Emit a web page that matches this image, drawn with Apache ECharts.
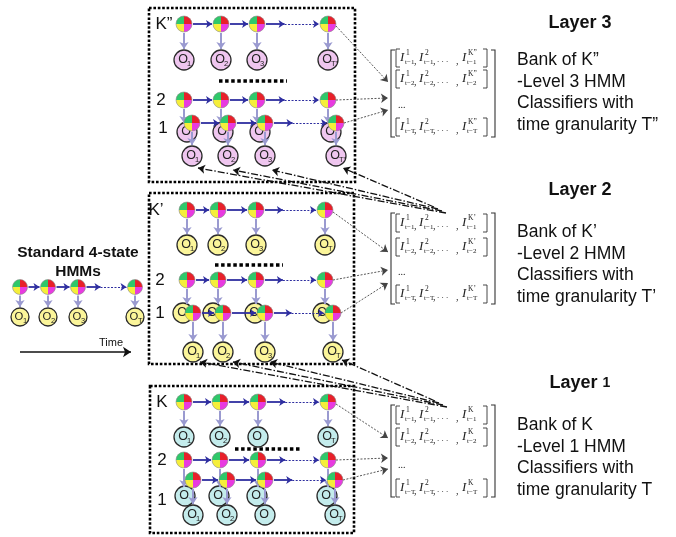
<!DOCTYPE html>
<html><head><meta charset="utf-8">
<script src="https://cdn.jsdelivr.net/npm/echarts@6/dist/echarts.min.js"></script>
<style>html,body{margin:0;padding:0;background:#fff}#c{width:676px;height:537px}</style>
</head><body><div id="c"></div>
<script>
// ---------------- content (texts / labels) ----------------
const layerNames = ['Layer 3', 'Layer 2', 'Layer {s|1}'];
const bankLines = [
  ['Bank of K\u201d', '-Level 3 HMM', 'Classifiers with', 'time granularity T\u201d'],
  ['Bank of K\u2019', '-Level 2 HMM', 'Classifiers with', 'time granularity T\u2019'],
  ['Bank of K', '-Level 1 HMM', 'Classifiers with', 'time granularity T']
];
const rowLabels = [['K\u201d', '2', '1'], ['K\u2019', '2', '1'], ['K', '2', '1']];
const obsTopSubs = [['1', '2', '3', 'T\u201d'], ['1', '2', '3', 'T'], ['1', '2', '', 'T']];
const obsBottomSubs = [['1', '2', '3', 'T\u201d'], ['1', '2', '3', 'T'], ['1', '2', '', 'T']];
const bankSizes = ['K\u201d', 'K\u2019', 'K'];
const termSups = ['1', '2'];
const lagSubs = ['t\u22121', 't\u22122', 't\u2212T'];
const stdTitle = ['Standard 4-state', 'HMMs'];
const stdObsSubs = ['1', '2', '3', 'T'];
const timeLabel = 'Time';

// ---------------- layout (pixel space of the 676x537 canvas) ----------------
const W = 676, H = 537;
const L = [
  { box: [149, 8, 355, 182], colsTop: [184, 221, 257, 328], cols1: [192, 228, 265, 336],
    yTop: 24, yTopO: 60, dotsY: 81, dotsX: [219, 287], y2: 100, y1: 123, hid: [-5, 9], y1O: 156,
    lab: [[164, 24], [161, 100], [163, 128]], conn: [82, 98, 110],
    mRows: [58, 79, 105, 127], mBr: [50, 137], text: [60, 82, 103, 125], head: [580, 23],
    dashTargets: [[198, 168], [233, 170], [272, 170], [343, 168]], dashStart: [[446, 213], [442, 211], [438, 209], [434, 207]],
    fill: '#efc6ef' },
  { box: [149, 193, 354, 364], colsTop: [187, 218, 256, 325], cols1: [193, 223, 265, 333],
    yTop: 210, yTopO: 245, dotsY: 265, dotsX: [215, 283], y2: 280, y1: 313, hid: [-10, 0], y1O: 352,
    lab: [[156, 210], [160, 280], [160, 313]], conn: [252, 270, 283],
    mRows: [223, 247, 272, 294], mBr: [213, 304], text: [232, 254, 275, 297], head: [580, 190],
    dashTargets: [[200, 362], [233, 362], [270, 362], [342, 360]], dashStart: [[447, 407], [443, 405], [439, 403], [435, 401]],
    fill: '#fbf59a' },
  { box: [150, 386, 354, 533], colsTop: [184, 220, 258, 328], cols1: [193, 227, 265, 335],
    yTop: 402, yTopO: 437, dotsY: 449, dotsX: [235, 302], y2: 460, y1: 480, hid: [-8, 16], y1O: 515,
    lab: [[162, 402], [162, 460], [162, 500]], conn: [438, 458, 469],
    mRows: [415, 437, 465, 488], mBr: [405, 497], text: [425, 447, 468, 490], head: [580, 383],
    dashTargets: null, dashStart: null,
    fill: '#c4ecec' }
];
const STD = { cols: [20, 48, 78, 135], y: 287, yO: 317, title: [[78, 253], [78, 272]], time: [111, 343], timeArrow: [[20, 352], [131, 352]], fill: '#fbf59a' };

const stateR = 8, obsR = 10;
const C = { green: '#2fc86a', red: '#e8202a', yellow: '#f5ee3a', magenta: '#e83ae0',
  blue: '#2e2ea0', lav: '#9a9ad0' };

// ---------------- build mark lists ----------------
const boxes = [], states = [], obs = [], hidden = [], hArrows = [], hDotted = [], vArrows = [],
  conns = [], dashes = [], ellipses = [], labels = [];

function rowArrows(cols, y, r) {
  for (let i = 0; i < cols.length - 1; i++) {
    const a = cols[i] + r + 1, b = cols[i + 1] - r - 1;
    if (i < cols.length - 2) hArrows.push({ coords: [[a, y], [b, y]] });
    else {
      const m = a + (b - a) * 0.35;
      hArrows.push({ coords: [[a, y], [m, y]] });
      hDotted.push({ coords: [[m, y], [b, y]] });
    }
  }
}

L.forEach((ly, li) => {
  boxes.push(ly.box);
  // top row (K)
  ly.colsTop.forEach((x, i) => {
    states.push({ x, y: ly.yTop, r: stateR });
    obs.push({ x, y: ly.yTopO, r: obsR, sub: obsTopSubs[li][i], fill: ly.fill });
    vArrows.push({ coords: [[x, ly.yTop + stateR + 1], [x, ly.yTopO - obsR - 1]] });
  });
  rowArrows(ly.colsTop, ly.yTop, stateR);
  // row 2
  ly.colsTop.forEach((x, i) => {
    states.push({ x, y: ly.y2, r: stateR });
    const hx = ly.cols1[i] + ly.hid[0], hy = ly.y1 + ly.hid[1];
    hidden.push({ x: hx, y: hy, r: obsR, sub: '', fill: ly.fill });
    vArrows.push({ coords: [[x, ly.y2 + stateR + 1], [x, hy - obsR + 1]] });
  });
  rowArrows(ly.colsTop, ly.y2, stateR);
  // row 1
  ly.cols1.forEach((x, i) => {
    states.push({ x, y: ly.y1, r: stateR });
    obs.push({ x, y: ly.y1O, r: obsR, sub: obsBottomSubs[li][i], fill: ly.fill });
    vArrows.push({ coords: [[x, ly.y1 + stateR + 1], [x, ly.y1O - obsR - 1]] });
  });
  rowArrows(ly.cols1, ly.y1, stateR);
  // ellipsis dots
  ellipses.push({ coords: [[ly.dotsX[0], ly.dotsY], [ly.dotsX[1], ly.dotsY]] });
  // connectors to matrix
  const last = ly.colsTop.length - 1;
  conns.push({ coords: [[ly.colsTop[last] + stateR, ly.yTop + 2], [388, ly.conn[0]]] });
  conns.push({ coords: [[ly.colsTop[last] + stateR, ly.y2], [388, ly.conn[1]]] });
  conns.push({ coords: [[ly.cols1[last] + stateR, ly.y1], [388, ly.conn[2]]] });
  // dash-dot feedback lines
  if (ly.dashTargets) ly.dashTargets.forEach((t, i) => dashes.push({ coords: [ly.dashStart[i], t] }));
  // texts
  labels.push({ x: ly.head[0], y: ly.head[1], text: layerNames[li], size: 18, weight: 'bold', align: 'center', rich: { s: { fontSize: 14, fontWeight: 'bold', fontFamily: 'Liberation Sans', fill: '#111' } } });
  bankLines[li].forEach((t, k) => labels.push({ x: 517, y: ly.text[k], text: t, size: 17.5, align: 'left' }));
  rowLabels[li].forEach((t, k) => labels.push({ x: ly.lab[k][0], y: ly.lab[k][1], text: t, size: 17, align: 'center' }));
});

// standard HMM on the left
STD.cols.forEach((x, i) => {
  states.push({ x, y: STD.y, r: 7.5 });
  obs.push({ x, y: STD.yO, r: 9, sub: stdObsSubs[i], fill: STD.fill });
  vArrows.push({ coords: [[x, STD.y + 8.5], [x, STD.yO - 10]] });
});
rowArrows(STD.cols, STD.y, 7.5);
stdTitle.forEach((t, k) => labels.push({ x: STD.title[k][0], y: STD.title[k][1], text: t, size: 15.5, weight: 'bold', align: 'center' }));
labels.push({ x: STD.time[0], y: STD.time[1], text: timeLabel, size: 11, align: 'center' });
const timeArrow = [{ coords: STD.timeArrow }];

// ---------------- render helpers ----------------
function stateItem(list) {
  return function (params, api) {
    const s = list[params.dataIndex];
    const c = api.coord([s.x, s.y]);
    const sec = (a0, a1, fill) => ({ type: 'sector', shape: { cx: c[0], cy: c[1], r0: 0, r: s.r, startAngle: a0, endAngle: a1, clockwise: true }, style: { fill } });
    const P = Math.PI;
    return { type: 'group', children: [
      sec(-P / 2, 0, C.red), sec(0, P / 2, C.magenta), sec(P / 2, P, C.yellow), sec(P, 1.5 * P, C.green),
      { type: 'circle', shape: { cx: c[0], cy: c[1], r: s.r }, style: { fill: 'transparent', stroke: '#8a8a8a', lineWidth: 0.6 } }
    ] };
  };
}
function obsItem(list) {
  return function (params, api) {
    const o = list[params.dataIndex];
    const c = api.coord([o.x, o.y]);
    const ch = [
      { type: 'circle', shape: { cx: c[0], cy: c[1], r: o.r }, style: { fill: o.fill, stroke: '#2a2a2a', lineWidth: 1.3 } },
      { type: 'text', x: c[0] - 1, y: c[1], style: { text: 'O', fontSize: o.r * 1.25, fontFamily: 'Liberation Sans', fill: '#222', align: 'center', verticalAlign: 'middle' } }
    ];
    if (o.sub) ch.push({ type: 'text', x: c[0] + 3, y: c[1] + 3.5, style: { text: o.sub, fontSize: 7.5, fontFamily: 'Liberation Sans', fill: '#222', align: 'left', verticalAlign: 'middle' } });
    return { type: 'group', children: ch };
  };
}
function matrixItem(params, api) {
  const li = params.dataIndex, ly = L[li];
  const p = (x, y) => api.coord([x, y]);
  const ch = [];
  const poly = (pts, w) => ({ type: 'polyline', shape: { points: pts.map(q => p(q[0], q[1])) }, style: { stroke: '#333', lineWidth: w || 1, fill: 'transparent' } });
  const txt = (t, x, y, size, fam, style, align) => {
    const q = p(x, y);
    return { type: 'text', x: q[0], y: q[1], style: { text: t, fontSize: size, fontFamily: fam || 'Liberation Serif', fontStyle: style || 'normal', fill: '#222', align: align || 'left', verticalAlign: 'middle' } };
  };
  const bt = ly.mBr[0], bb = ly.mBr[1], lx = 391, rx = 495;
  ch.push(poly([[lx + 4, bt], [lx, bt], [lx, bb], [lx + 4, bb]], 1.1));
  ch.push(poly([[rx - 4, bt], [rx, bt], [rx, bb], [rx - 4, bb]], 1.1));
  const supAll = termSups.concat([bankSizes[li]]);
  const Ix = [400, 419, 462];
  [0, 1, 3].forEach((k, kk) => {
    const y = ly.mRows[k];
    ch.push(poly([[400, y - 9], [396, y - 9], [396, y + 9], [400, y + 9]], 0.9));
    ch.push(poly([[483, y - 9], [487, y - 9], [487, y + 9], [483, y + 9]], 0.9));
    supAll.forEach((sup, j) => {
      ch.push(txt('I', Ix[j], y, 13, 'Liberation Serif', 'italic'));
      ch.push(txt(sup, Ix[j] + 6, y - 4.5, 7.5, 'Liberation Serif', 'normal'));
      ch.push(txt(lagSubs[kk], Ix[j] + 5, y + 4.5, 7, 'Liberation Serif', 'normal'));
    });
    ch.push(txt(',', 414, y + 3, 10));
    ch.push(txt(',', 433, y + 3, 10));
    ch.push(txt('. . .', 437, y + 2, 9));
    ch.push(txt(',', 456, y + 3, 10));
  });
  ch.push(txt('...', 398, ly.mRows[2], 10));
  return { type: 'group', children: ch };
}
function textItem(params, api) {
  const t = labels[params.dataIndex];
  const c = api.coord([t.x, t.y]);
  const st = { text: t.text, fontSize: t.size, fontFamily: 'Liberation Sans', fontWeight: t.weight || 'normal', fill: '#111', align: t.align, verticalAlign: 'middle' };
  if (t.rich) st.rich = t.rich;
  return { type: 'text', x: c[0], y: c[1], style: st };
}
function boxItem(params, api) {
  const b = boxes[params.dataIndex];
  const p1 = api.coord([b[0], b[1]]), p2 = api.coord([b[2], b[3]]);
  return { type: 'rect', shape: { x: p1[0], y: p1[1], width: p2[0] - p1[0], height: p2[1] - p1[1] }, style: { fill: 'transparent', stroke: '#000', lineWidth: 2.6, lineDash: [2.6, 1.8] } };
}
const pts = list => list.map(d => [d.x, d.y]);
const linesSeries = (data, color, width, type, symSize, z, sym) => ({
  type: 'lines', coordinateSystem: 'cartesian2d', z, silent: true,
  symbol: sym || ['none', 'arrow'], symbolSize: symSize,
  lineStyle: { color, width, type, opacity: 1, curveness: 0 }, data
});

const option = {
  animation: false,
  grid: { left: 0, right: 0, top: 0, bottom: 0 },
  xAxis: { type: 'value', min: 0, max: W, show: false },
  yAxis: { type: 'value', min: 0, max: H, inverse: true, show: false },
  series: [
    { type: 'custom', coordinateSystem: 'cartesian2d', z: 1, silent: true, data: boxes.map(b => [b[0], b[1]]), renderItem: boxItem },
    linesSeries(dashes, '#111', 1.3, [7, 2, 1.5, 2], 7, 2),
    linesSeries(ellipses, '#000', 3.5, [3.5, 2.6], 1, 2, ['none', 'none']),
    { type: 'custom', coordinateSystem: 'cartesian2d', z: 3, silent: true, data: pts(hidden), renderItem: obsItem(hidden) },
    linesSeries(vArrows, C.lav, 2, 'solid', 7, 4),
    linesSeries(hArrows, C.blue, 1.8, 'solid', 6, 4),
    linesSeries(hDotted, C.blue, 1.2, [2, 1.5], 6, 4),
    linesSeries(conns, '#444', 0.9, [2, 1.5], 7, 4),
    linesSeries(timeArrow, '#111', 1.6, 'solid', 8, 4),
    { type: 'custom', coordinateSystem: 'cartesian2d', z: 5, silent: true, data: pts(obs), renderItem: obsItem(obs) },
    { type: 'custom', coordinateSystem: 'cartesian2d', z: 6, silent: true, data: pts(states), renderItem: stateItem(states) },
    { type: 'custom', coordinateSystem: 'cartesian2d', z: 7, silent: true, data: L.map((ly, i) => [0, i]), renderItem: matrixItem },
    { type: 'custom', coordinateSystem: 'cartesian2d', z: 7, silent: true, data: labels.map(t => [t.x, t.y]), renderItem: textItem }
  ]
};
const chart = echarts.init(document.getElementById('c'));
chart.setOption(option);
</script>
</body></html>
